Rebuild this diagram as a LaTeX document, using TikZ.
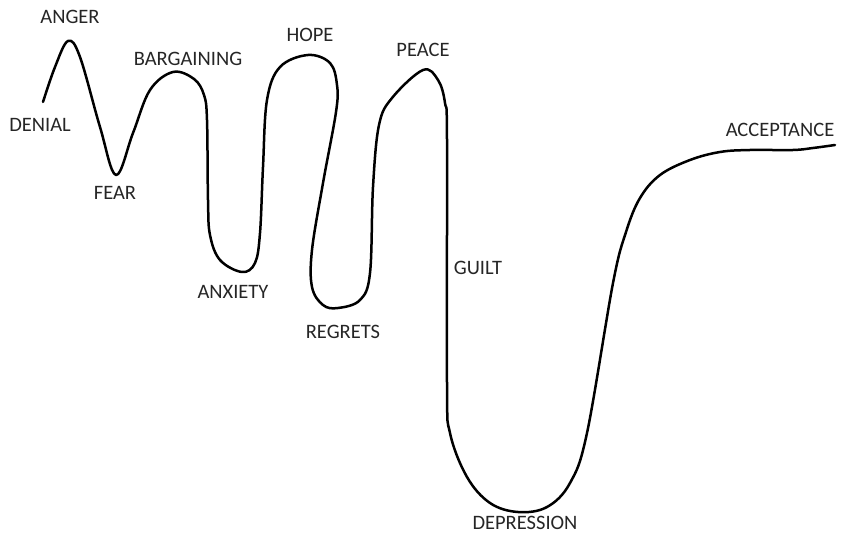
\documentclass[tikz,border=0pt]{standalone}
\usepackage{fontspec}
\setmainfont{Carlito}
\begin{document}
\begin{tikzpicture}[x=1pt,y=-1pt,
  lbl/.style={font=\fontsize{20.5}{24}\selectfont, text=black!85, inner sep=0pt},
  curve/.style={line width=2.5pt, line cap=round, line join=round}]
\useasboundingbox (0,0) rectangle (842,537);
\draw[curve] plot[smooth, tension=0.6] coordinates {
 (43,102) (55,67) (68,41) (80,57) (100,127) (116,175) (133,133) (150,90)
 (173,72) (194,79) (204,95) (207,120) (208,200) (210,235) (220,260) (242,272)
 (255,263) (260,233) (263,167) (267,100) (280,67) (308,55) (330,63)
 (337,85) (336,112) (323,183) (312,250) (312,287) (323,305) (338,308)
 (360,300) (370,273) (373,187) (379,125) (392,98) (423,70) (438,80)
 (445,103) (447,140) (447,383) (450,433) (467,477) (490,503) (518,512)
 (547,507) (570,483) (587,433) (613,283) (626,232) (640,198) (660,175) (690,160)
 (720,152) (750,150) (793,150) (813,148) (835,145)};
\node[lbl] (anger) at (70,17) {ANGER};
\node[lbl] (denial) at (40,125) {DENIAL};
\node[lbl] (fear) at (115,193) {FEAR};
\node[lbl] (barg) at (188,59) {BARGAINING};
\node[lbl] (hope) at (310,35) {HOPE};
\node[lbl] (peace) at (423,50) {PEACE};
\node[lbl] (anx) at (233,292) {ANXIETY};
\node[lbl] (reg) at (343,332) {REGRETS};
\node[lbl] (guilt) at (478,268) {GUILT};
\node[lbl] (dep) at (525,523) {DEPRESSION};
\node[lbl] (acc) at (780,130) {ACCEPTANCE};
\end{tikzpicture}
\end{document}
